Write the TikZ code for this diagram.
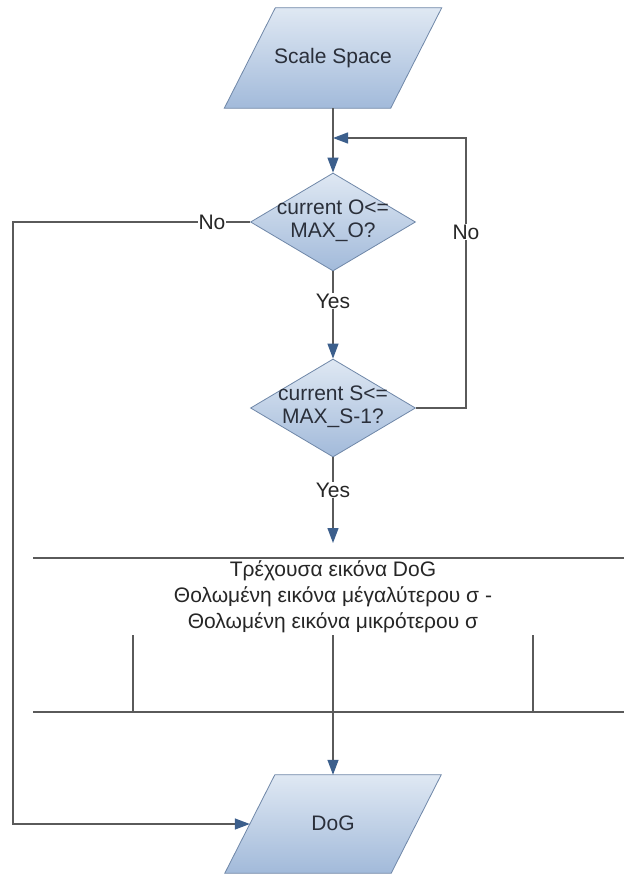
\documentclass[tikz,border=0pt]{standalone}
\usepackage{fontspec}
\setmainfont{Liberation Sans}
\usetikzlibrary{shapes.geometric,arrows.meta}
\definecolor{linegray}{HTML}{5A5A5A}
\definecolor{tipblue}{HTML}{3C5F8C}
\definecolor{shapetop}{HTML}{DFE8F3}
\definecolor{shapebot}{HTML}{A2BADA}
\definecolor{shapeedge}{HTML}{6F87A8}
\definecolor{txt}{HTML}{2A2F3A}
\begin{document}
\begin{tikzpicture}[x=1pt,y=-1pt,
  font=\fontsize{21}{23}\selectfont,
  iobox/.style={rectangle, minimum width=166pt, minimum height=100pt, inner sep=0pt},
  iofill/.style={draw=shapeedge, line width=0.8pt, top color=shapetop, bottom color=shapebot},
  decision/.style={diamond, minimum width=165pt, minimum height=98pt,
    inner sep=0pt, draw=shapeedge, line width=0.8pt,
    top color=shapetop, bottom color=shapebot},
  dtext/.style={align=center, text=txt, inner sep=0pt},
  flow/.style={draw=linegray, line width=1.3pt},
  arrow/.style={flow, -{Triangle[length=15pt,width=11pt,color=tipblue]}},
  lbl/.style={fill=white, inner sep=1pt, text=black!85},
]
\fill[white] (0,0) rectangle (624,874);
\useasboundingbox (0,0) rectangle (624,874);

% input/output parallelograms around plain box nodes
\node[iobox] (scale) at (333,58) {};
\shade[iofill] ([xshift=25.5pt]scale.north west) -- ([xshift=25.5pt]scale.north east)
  -- ([xshift=-25.5pt]scale.south east) -- ([xshift=-25.5pt]scale.south west) -- cycle;
\node[dtext] (scalet) at (scale.center) {Scale Space};

\node[iobox, minimum height=98pt] (dog) at (333,824) {};
\shade[iofill] ([xshift=25pt]dog.north west) -- ([xshift=25pt]dog.north east)
  -- ([xshift=-25pt]dog.south east) -- ([xshift=-25pt]dog.south west) -- cycle;
\node[dtext] (dogt) at (333,823) {DoG};

% decisions
\node[decision] (d1) at (333,222) {};
\node[dtext] (d1t) at (333,221) {current O<=\\MAX\_O?};
\node[decision] (d2) at (333,408) {};
\node[dtext] (d2t) at (333,407) {current S<=\\MAX\_S-1?};

% process block: text between two rules with three posts
\node[align=center, text=black!85, font=\fontsize{21}{26}\selectfont] (proc) at (333,597)
  {Τρέχουσα εικόνα DoG\\Θολωμένη εικόνα μέγαλύτερου σ -\\Θολωμένη εικόνα μικρότερου σ};
\coordinate (ptl) at (33,558);
\coordinate (ptr) at (624,558);
\coordinate (pbl) at (33,712);
\coordinate (pbr) at (624,712);
\coordinate (v1t) at (133,635);
\coordinate (v1b) at (133,712);
\coordinate (v2t) at (333,635);
\coordinate (v3t) at (533,635);
\coordinate (v3b) at (533,712);
\draw[flow] (ptl) -- (ptr);
\draw[flow] (pbl) -- (pbr);
\draw[flow] (v1t) -- (v1b);
\draw[flow] (v3t) -- (v3b);

% connectors
\coordinate (join) at (333,138);
\coordinate (loopb) at (466,408);
\coordinate (loopt) at (466,138);
\coordinate (leftt) at (13,222);
\coordinate (leftb) at (13,824);
\coordinate (pin) at (333,543);

\draw[arrow] (scale.south) -- (d1.north);
\draw[arrow] (d2.east) -- (loopb) -- (loopt) -- (join);
\draw[arrow] (d1.west) -- (leftt) -- (leftb) -- (dog.west);
\draw[arrow] (d1.south) -- (d2.north);
\draw[arrow] (d2.south) -- (pin);
\draw[arrow] (v2t) -- (dog.north);

% connector labels
\node[lbl] (no1) at (212,222) {No};
\node[lbl] (no2) at (466,232) {No};
\node[lbl] (yes1) at (333,301) {Yes};
\node[lbl] (yes2) at (333,490) {Yes};
\end{tikzpicture}
\end{document}
